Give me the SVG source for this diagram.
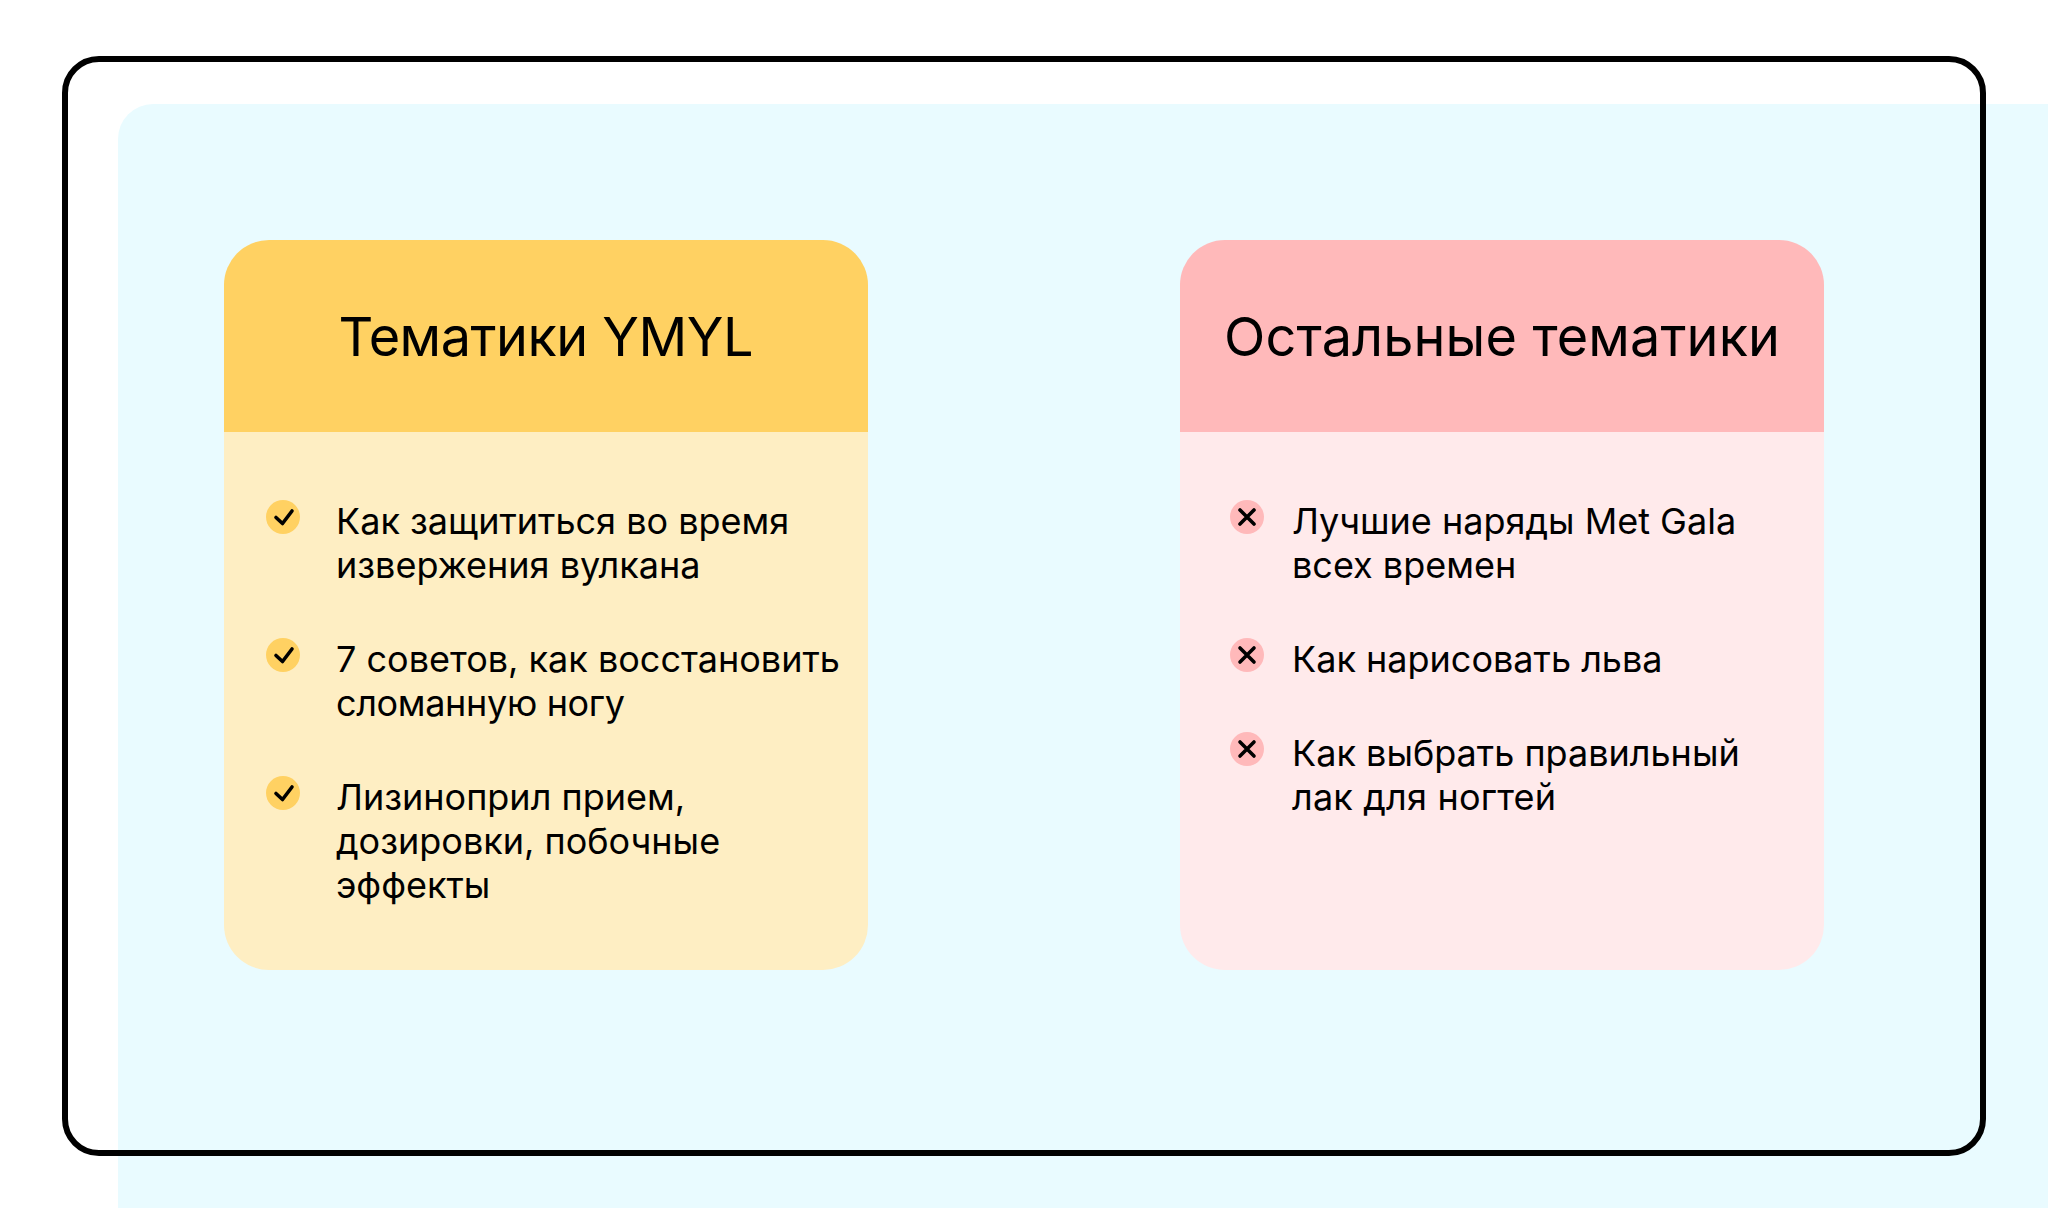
<svg xmlns="http://www.w3.org/2000/svg" width="2048" height="1208" viewBox="0 0 2048 1208">
<style>
text{font-family:Inter,"Liberation Sans",sans-serif;fill:#000}
.t{font-size:54px;text-anchor:middle}
.i{font-size:36px}
.ic{fill:none;stroke:#000;stroke-width:3.600;stroke-linecap:round;stroke-linejoin:round}
</style>
<defs>
<g id="chk"><circle r="17" fill="#ffd162"/><path class="ic" d="M-7 0.500L-0.500 6.500L9 -6"/></g>
<g id="crs"><circle r="17" fill="#ffb9ba"/><path class="ic" d="M-7 -7L7 7M7 -7L-7 7"/></g>
</defs>
<rect width="2048" height="1208" fill="#fff"/>
<path d="M2048 104H153a35 35 0 0 0-35 35V1208H2048Z" fill="#e9fbff"/>
<rect id="frame" x="65" y="59" width="1918" height="1094" rx="34" fill="none" stroke="#000" stroke-width="6"/>
<g id="card-ymyl">
<path d="M224 432V285a45 45 0 0 1 45-45H823a45 45 0 0 1 45 45V432Z" fill="#ffd162"/>
<path d="M224 432H868V925a45 45 0 0 1-45 45H269a45 45 0 0 1-45-45Z" fill="#feeec3"/>
<text class="t" x="546" y="356" textLength="415">Тематики YMYL</text>
<use href="#chk" x="283" y="517"/>
<text class="i" x="336" y="534">Как защититься во время</text>
<text class="i" x="336" y="578">извержения вулкана</text>
<use href="#chk" x="283" y="655"/>
<text class="i" x="336" y="672">7 советов, как восстановить</text>
<text class="i" x="336" y="716" textLength="289">сломанную ногу</text>
<use href="#chk" x="283" y="793"/>
<text class="i" x="336" y="810">Лизиноприл прием,</text>
<text class="i" x="336" y="854">дозировки, побочные</text>
<text class="i" x="336" y="898">эффекты</text>
</g>
<g id="card-other">
<path d="M1180 432V285a45 45 0 0 1 45-45H1779a45 45 0 0 1 45 45V432Z" fill="#ffb9ba"/>
<path d="M1180 432H1824V925a45 45 0 0 1-45 45H1225a45 45 0 0 1-45-45Z" fill="#ffeaeb"/>
<text class="t" x="1502" y="356" textLength="556">Остальные тематики</text>
<use href="#crs" x="1247" y="517"/>
<text class="i" x="1292" y="534">Лучшие наряды Met Gala</text>
<text class="i" x="1292" y="578">всех времен</text>
<use href="#crs" x="1247" y="655"/>
<text class="i" x="1292" y="672">Как нарисовать льва</text>
<use href="#crs" x="1247" y="749"/>
<text class="i" x="1292" y="766">Как выбрать правильный</text>
<text class="i" x="1292" y="810" textLength="264">лак для ногтей</text>
</g>
</svg>
